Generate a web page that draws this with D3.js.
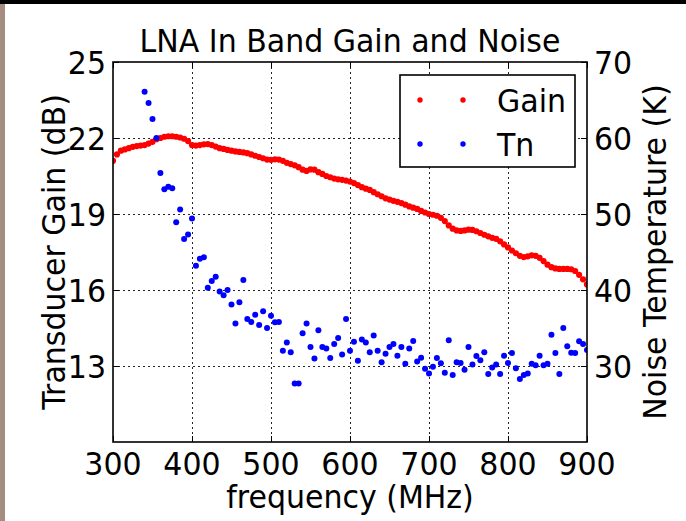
<!DOCTYPE html>
<html>
<head>
<meta charset="utf-8">
<script src="https://cdn.jsdelivr.net/npm/d3@7/dist/d3.min.js"></script>
<style>
  html, body { margin: 0; padding: 0; background: #fff; }
  svg { display: block; }
  text { font-family: "DejaVu Sans", sans-serif; fill: #000; }
</style>
</head>
<body>
<svg id="chart" width="686" height="521"></svg>
<script>
// ---- data ----
const title = "LNA In Band Gain and Noise";
const xLabel = "frequency (MHz)";
const yLeftLabel = "Transducer Gain (dB)";
const yRightLabel = "Noise Temperature (K)";

const xTicks = [300, 400, 500, 600, 700, 800, 900];
const gainTicks = [13, 16, 19, 22, 25];
const tnTicks = [30, 40, 50, 60, 70];

// Gain (dB), every 5 MHz from 300 to 900
const gainStart = 300, gainStep = 5;
const gainValues = [
  21.10, 21.35, 21.50, 21.55, 21.60, 21.65, 21.68, 21.70, 21.72, 21.78,
  21.85, 21.95, 22.00, 22.05, 22.07, 22.07, 22.05, 22.02, 21.97, 21.88,
  21.72, 21.70, 21.72, 21.75, 21.76, 21.72, 21.66, 21.60, 21.57, 21.53,
  21.50, 21.47, 21.45, 21.43, 21.40, 21.35, 21.30, 21.25, 21.20, 21.15,
  21.14, 21.16, 21.15, 21.10, 21.02, 20.97, 20.92, 20.85, 20.75, 20.70,
  20.76, 20.75, 20.65, 20.58, 20.50, 20.45, 20.40, 20.37, 20.35, 20.32,
  20.28, 20.22, 20.14, 20.06, 20.00, 19.95, 19.86, 19.78, 19.70, 19.62,
  19.57, 19.52, 19.48, 19.43, 19.37, 19.30, 19.25, 19.20, 19.12, 19.06,
  19.00, 18.97, 18.93, 18.85, 18.72, 18.55, 18.42, 18.35, 18.33, 18.35,
  18.38, 18.37, 18.32, 18.25, 18.18, 18.12, 18.06, 18.02, 17.92, 17.80,
  17.68, 17.56, 17.45, 17.35, 17.30, 17.33, 17.37, 17.35, 17.27, 17.14,
  17.00, 16.90, 16.85, 16.83, 16.83, 16.83, 16.82, 16.75, 16.60, 16.42,
  16.22
];

// Noise temperature (K), every 5 MHz from 340 to 900
const tnStart = 340, tnStep = 5;
const tnValues = [
  66.1, 64.6, 62.5, 60.0, 55.4, 53.25, 53.6, 53.4, 48.9, 50.6,
  46.7, 47.3, 49.4, 43.2, 44.1, 44.3, 40.3, 41.2, 41.75, 39.8,
  39.3, 40.0, 38.1, 35.6, 38.4, 41.3, 36.2, 35.8, 36.75, 35.4,
  37.2, 35.0, 36.6, 35.75, 35.8, 32.0, 33.1, 31.8, 27.7, 27.7,
  34.3, 35.6, 32.5, 31.0, 34.7, 32.5, 32.3, 31.05, 32.9, 33.7,
  31.5, 36.2, 32.0, 33.2, 30.7, 33.5, 33.1, 31.8, 34.0, 32.0,
  30.5, 31.6, 32.5, 32.9, 31.35, 32.5, 30.3, 32.3, 33.3, 30.6,
  31.1, 29.65, 29.0, 29.9, 31.05, 30.35, 29.1, 33.4, 28.8, 30.5,
  30.4, 29.5, 32.5, 30.2, 31.3, 30.75, 31.8, 28.95, 29.8, 30.2,
  28.95, 31.35, 30.4, 31.7, 29.7, 28.3, 28.8, 29.0, 30.3, 30.1,
  31.35, 30.1, 30.3, 34.1, 31.7, 28.95, 35.0, 32.6, 31.75, 31.7,
  33.25, 32.9, 32.1
];

const gainData = gainValues.map((v, i) => ({ f: gainStart + i * gainStep, v }));
const tnData = tnValues.map((v, i) => ({ f: tnStart + i * tnStep, v }));

// ---- layout ----
const W = 686, H = 521;
const plot = { left: 113, right: 587, top: 62, bottom: 442 };
const FS = 30;
const STRETCH = 1.08; // reference glyphs are slightly taller than wide

const svg = d3.select("#chart");

// backdrop edges (photo border)
svg.append("rect").attr("x", 0).attr("y", 0).attr("width", W).attr("height", H).attr("fill", "#fff");
svg.append("rect").attr("x", 0).attr("y", 0).attr("width", 5).attr("height", H).attr("fill", "#a48c80");
svg.append("rect").attr("x", 0).attr("y", 0).attr("width", W).attr("height", 4).attr("fill", "#000");

const x = d3.scaleLinear().domain([300, 900]).range([plot.left, plot.right]);
const yG = d3.scaleLinear().domain([10, 25]).range([plot.bottom, plot.top]);
const yT = d3.scaleLinear().domain([20, 70]).range([plot.bottom, plot.top]);

svg.append("clipPath").attr("id", "clip")
  .append("rect")
  .attr("x", plot.left).attr("y", plot.top)
  .attr("width", plot.right - plot.left).attr("height", plot.bottom - plot.top);

// grid
const grid = svg.append("g").attr("stroke", "#000").attr("stroke-width", 1)
  .attr("stroke-dasharray", "2,3").attr("opacity", 0.85).attr("shape-rendering", "crispEdges");
xTicks.filter(t => t > 300 && t < 900).forEach(t => {
  grid.append("line").attr("x1", Math.round(x(t)) + 0.5).attr("x2", Math.round(x(t)) + 0.5)
    .attr("y1", plot.top).attr("y2", plot.bottom);
});
gainTicks.filter(t => t < 25).forEach(t => {
  grid.append("line").attr("y1", Math.round(yG(t)) + 0.5).attr("y2", Math.round(yG(t)) + 0.5)
    .attr("x1", plot.left).attr("x2", plot.right);
});

// data
const marks = svg.append("g").attr("clip-path", "url(#clip)");
marks.selectAll("circle.gain").data(gainData).join("circle")
  .attr("class", "gain")
  .attr("cx", d => x(d.f)).attr("cy", d => yG(d.v)).attr("r", 3.1).attr("fill", "#ff0000");
marks.selectAll("circle.tn").data(tnData).join("circle")
  .attr("class", "tn")
  .attr("cx", d => x(d.f)).attr("cy", d => yT(d.v)).attr("r", 3).attr("fill", "#0000ff");

// helper: stretched text centred on anchor point
function sText(g, px, py, str, anchor, rot) {
  const t = g.append("g").attr("transform", `translate(${px},${py}) rotate(${rot || 0}) scale(1,${STRETCH})`)
    .append("text").attr("x", 0).attr("y", 0)
    .attr("text-anchor", anchor).attr("dy", "0.36em").attr("font-size", FS).text(str);
  return t;
}

// axes (ticks inside)
const tickLen = 6;
const axB = svg.append("g").attr("transform", `translate(0,${plot.bottom})`)
  .call(d3.axisBottom(x).tickValues(xTicks).tickSize(-tickLen).tickFormat(""));
const axT = svg.append("g").attr("transform", `translate(0,${plot.top})`)
  .call(d3.axisTop(x).tickValues(xTicks).tickSize(-tickLen).tickFormat(""));
const axL = svg.append("g").attr("transform", `translate(${plot.left},0)`)
  .call(d3.axisLeft(yG).tickValues(gainTicks).tickSize(-tickLen).tickFormat(""));
const axR = svg.append("g").attr("transform", `translate(${plot.right},0)`)
  .call(d3.axisRight(yT).tickValues(tnTicks).tickSize(-tickLen).tickFormat(""));
[axB, axT, axL, axR].forEach(a => {
  a.select(".domain").remove();
  a.selectAll(".tick line").attr("stroke", "#000").attr("stroke-width", 1);
});

const lab = svg.append("g");
xTicks.forEach(t => sText(lab, x(t), 463, String(t), "middle"));
gainTicks.forEach(t => sText(lab, plot.left - 7, yG(t), String(t), "end"));
tnTicks.forEach(t => sText(lab, plot.right + 7, yT(t), String(t), "start"));

// frame
svg.append("rect")
  .attr("x", plot.left).attr("y", plot.top)
  .attr("width", plot.right - plot.left).attr("height", plot.bottom - plot.top)
  .attr("fill", "none").attr("stroke", "#000").attr("stroke-width", 1.6);

// labels
sText(svg, (plot.left + plot.right) / 2, 40, title, "middle");
sText(svg, (plot.left + plot.right) / 2, 496, xLabel, "middle");
sText(svg, 53, (plot.top + plot.bottom) / 2, yLeftLabel, "middle", -90);
sText(svg, 654, (plot.top + plot.bottom) / 2, yRightLabel, "middle", -90);

// legend
const lg = svg.append("g");
lg.append("rect").attr("x", 400).attr("y", 75).attr("width", 175).attr("height", 92)
  .attr("fill", "#fff").attr("stroke", "#000").attr("stroke-width", 1.6);
const legendItems = [
  { name: "Gain", color: "#ff0000", y: 100 },
  { name: "Tn", color: "#0000ff", y: 144 }
];
legendItems.forEach(it => {
  [420, 463].forEach(cx => lg.append("circle").attr("cx", cx).attr("cy", it.y).attr("r", 2.7).attr("fill", it.color));
  sText(lg, 497, it.y, it.name, "start");
});
</script>
</body>
</html>
